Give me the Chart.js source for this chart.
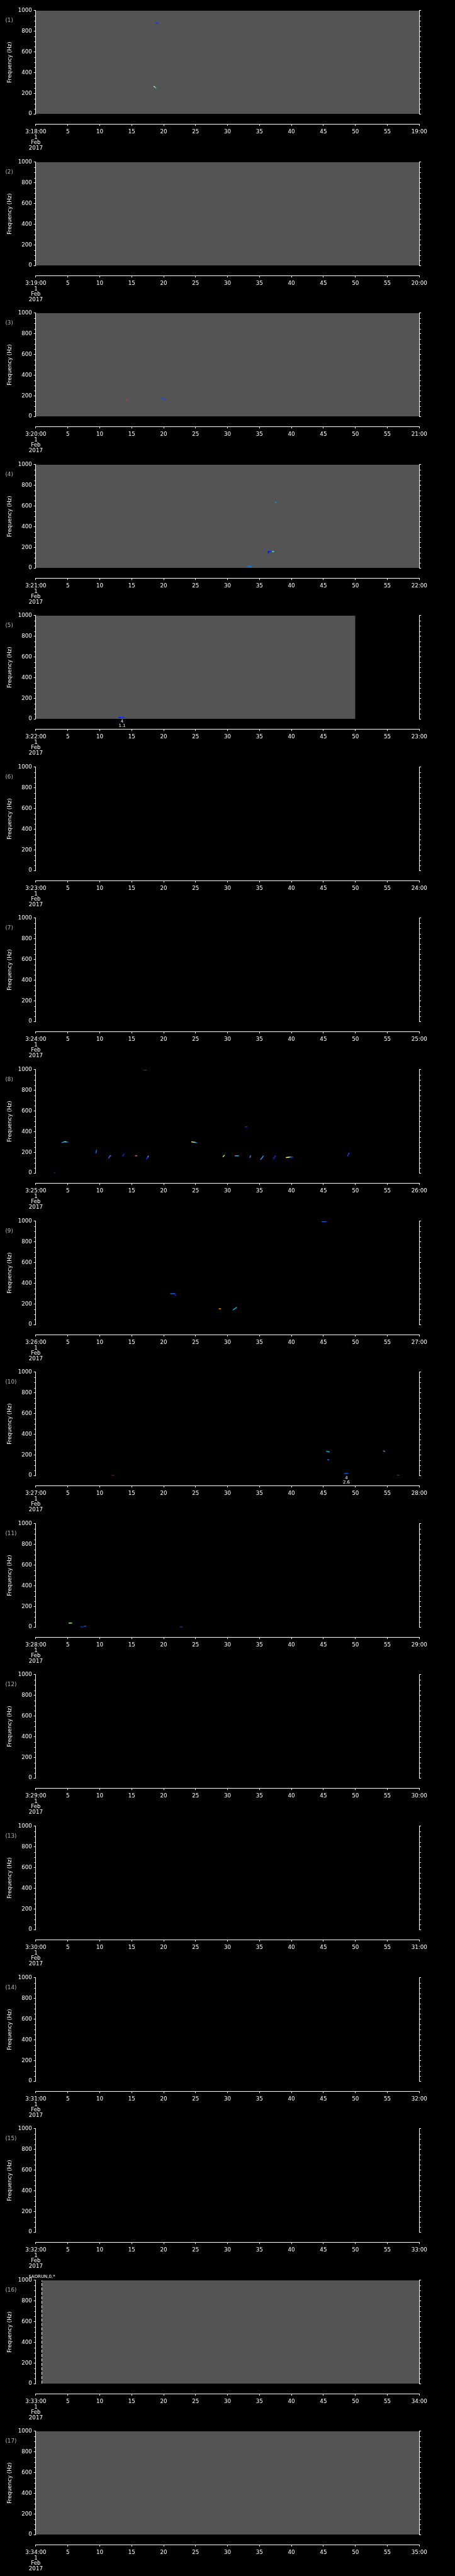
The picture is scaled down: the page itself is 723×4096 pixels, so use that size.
<!DOCTYPE html>
<html>
<head>
<meta charset="utf-8">
<script src="https://cdn.jsdelivr.net/npm/chart.js@4/dist/chart.umd.min.js"></script>
<style>
  html, body { margin: 0; padding: 0; background: #000; }
  #wrap { position: relative; width: 723px; height: 4096px; background: #000; }
</style>
</head>
<body>
<div id="wrap"></div>
<script>
const S = 0.705;
const PANEL_H = 341.25;
const FONT = 'DejaVu Sans';

const panelNames = ['(1)', '(2)', '(3)', '(4)', '(5)', '(6)', '(7)', '(8)', '(9)', '(10)',
  '(11)', '(12)', '(13)', '(14)', '(15)', '(16)', '(17)'];
const startLabels = ['3:18:00', '3:19:00', '3:20:00', '3:21:00', '3:22:00', '3:23:00', '3:24:00',
  '3:25:00', '3:26:00', '3:27:00', '3:28:00', '3:29:00', '3:30:00', '3:31:00', '3:32:00', '3:33:00', '3:34:00'];
const endLabels = ['19:00', '20:00', '21:00', '22:00', '23:00', '24:00', '25:00', '26:00', '27:00',
  '28:00', '29:00', '30:00', '31:00', '32:00', '33:00', '34:00', '35:00'];
const midLabels = ['5', '10', '15', '20', '25', '30', '35', '40', '45', '50', '55'];
const dateLines = ['1', 'Feb', '2017'];
const freqLabels = ['0', '200', '400', '600', '800', '1000'];
const minorFreqs = [50, 100, 150, 250, 300, 350, 450, 500, 550, 650, 700, 750, 850, 900, 950];

// grey = span of minutes with data in each panel (null = none)
const coverStart = [0, 0, 0, 0, 0, null, null, null, null, null, null, null, null, null, null, 1, 0];
const coverEnd = [60, 60, 60, 60, 50, null, null, null, null, null, null, null, null, null, null, 60, 60];

// spectrogram traces: panel, minutes and Hz at both ends, colour
const blobPanel = [1, 1, 1,
  3, 3,
  4, 4, 4, 4, 4,
  5, 5,
  8, 8, 8, 8, 8, 8, 8, 8, 8, 8, 8, 8, 8, 8, 8, 8, 8, 8, 8, 8, 8, 8, 8, 8,
  9, 9, 9, 9, 9,
  10, 10, 10, 10, 10, 10,
  11, 11, 11, 11];
const blobT0 = [18.5, 18.6, 18.8,
  14.1, 19.6,
  37.5, 36.4, 36.4, 36.9, 33.2,
  13.0, 13.4,
  16.9, 2.9, 4.1, 4.4, 4.7, 9.4, 11.4, 13.6, 15.6, 17.3, 17.5, 24.4, 24.8, 32.8, 29.3, 31.2, 33.5, 35.2, 37.2, 39.2, 39.6, 39.9, 48.8, 11.6,
  44.8, 21.1, 21.7, 28.7, 30.9,
  11.9, 45.5, 45.7, 48.3, 54.4, 56.6,
  5.2, 7.0, 7.6, 22.6];
const blobT1 = [18.6, 18.8, 19.05,
  14.3, 20.3,
  37.6, 36.4, 36.9, 37.2, 33.7,
  13.8, 13.6,
  17.3, 3.0, 4.4, 4.7, 5.0, 9.5, 11.6, 13.8, 15.8, 17.5, 17.6, 24.8, 25.1, 33.0, 29.5, 31.7, 33.6, 35.6, 37.5, 39.6, 39.9, 40.2, 49.0, 11.7,
  45.4, 21.7, 21.9, 28.9, 31.4,
  12.2, 45.9, 45.8, 48.8, 54.6, 56.8,
  5.6, 7.4, 7.8, 22.9];
const blobF0 = [266, 262, 878,
  162, 178,
  635, 142, 159, 159, 18,
  15, 15,
  998, 0, 295, 302, 300, 197, 144, 165, 167, 136, 150, 302, 298, 447, 158, 167, 152, 132, 141, 150, 153, 155, 167, 165,
  997, 299, 299, 153, 144,
  0, 235, 153, 20, 237, 3,
  39, 0, 9, 0];
const blobF1 = [262, 249, 878,
  162, 162,
  635, 159, 159, 159, 13,
  15, 15,
  998, 0, 300, 302, 300, 220, 165, 184, 167, 150, 164, 298, 295, 447, 172, 167, 168, 164, 167, 153, 155, 155, 194, 168,
  997, 299, 283, 153, 166,
  0, 230, 153, 20, 233, 3,
  39, 0, 9, 0];
const blobColor = ['#e0ff30', '#00d0ff', '#0030ff',
  '#ff3000', '#0050ff',
  '#00b0ff', '#0010e0', '#0020ff', '#50ff90', '#0080ff',
  '#0020ff', '#40ffc0',
  '#0040ff', '#0050ff', '#2080ff', '#50ffb0', '#0090ff', '#1080ff', '#2060ff', '#2020ff', '#ff6000', '#1030ff', '#00d0ff', '#ffff30', '#00c0ff', '#0030ff', '#c0ff30', '#00c0ff', '#10a0ff', '#20a0ff', '#1030ff', '#ffff40', '#00d0ff', '#0040ff', '#2040ff', '#ff8000',
  '#0070ff', '#0060ff', '#0020ff', '#ff9000', '#00c0ff',
  '#ff1000', '#00b0ff', '#0090ff', '#0070ff', '#00b0ff', '#0050ff',
  '#a0ff50', '#0070ff', '#0060ff', '#0090ff'];

// small value labels under traces
const notePanel = [5, 10];
const noteTime = [13.5, 48.6];
const noteTop = ['4', '4'];
const noteBottom = ['1.1', '2.6'];

// run start marker
const runPanel = [16];
const runTime = [0.95];
const runLabel = ['$ADRUN,0,*'];

const tickFont = { family: FONT, size: 8.7, lineHeight: 0.975 };

const minorTicks = {
  id: 'minorTicks',
  afterDraw(chart) {
    const ctx = chart.ctx;
    ctx.save();
    ctx.strokeStyle = '#fff';
    ctx.lineWidth = 1;
    ['y', 'y2'].forEach(id => {
      const sc = chart.scales[id];
      const x0 = id === 'y' ? chart.chartArea.left : chart.chartArea.right;
      const dir = id === 'y' ? -1 : 1;
      minorFreqs.forEach(v => {
        const py = Math.round(sc.getPixelForValue(v)) + 0.5;
        ctx.beginPath();
        ctx.moveTo(x0, py);
        ctx.lineTo(x0 + dir * 2.4, py);
        ctx.stroke();
      });
    });
    ctx.restore();
  }
};

const panelText = {
  id: 'panelText',
  afterDraw(chart, args, opts) {
    const { ctx, chartArea } = chart;
    const x = chart.scales.x, y = chart.scales.y;
    ctx.save();
    ctx.textBaseline = 'middle';
    ctx.textAlign = 'left';
    ctx.fillStyle = '#b4b4b4';
    ctx.font = '8.7px "' + FONT + '"';
    ctx.fillText(opts.name, 12 * S, chartArea.top + 23 * S);
    ctx.fillStyle = '#fff';
    ctx.textAlign = 'center';
    ctx.font = '7px "' + FONT + '"';
    opts.notes.forEach(n => {
      const px = x.getPixelForValue(n.t);
      const py = y.getPixelForValue(0);
      ctx.fillText(n.top, px, py + 6 * S);
      ctx.fillText(n.bottom, px, py + 15 * S);
    });
    opts.runs.forEach(r => {
      ctx.fillText(r.label, x.getPixelForValue(r.t), y.getPixelForValue(1000) - 8 * S);
    });
    ctx.restore();
  }
};

const wrap = document.getElementById('wrap');

for (let p = 0; p < panelNames.length; p++) {
  const top = Math.round(p * PANEL_H * S);
  const h = Math.round((p + 1) * PANEL_H * S) - top;
  const cv = document.createElement('canvas');
  cv.width = 723;
  cv.height = h;
  cv.style.cssText = 'position:absolute;left:0;top:' + top + 'px;width:723px;height:' + h + 'px';
  wrap.appendChild(cv);

  const datasets = [];
  blobPanel.forEach((bp, i) => {
    if (bp !== p + 1) return;
    datasets.push({
      data: [{ x: blobT0[i], y: blobF0[i] }, { x: blobT1[i], y: blobF1[i] }],
      borderColor: blobColor[i],
      borderWidth: 2 * S,
      borderCapStyle: 'square',
      pointRadius: 0,
      fill: false,
      order: 1
    });
  });
  const notes = [];
  notePanel.forEach((np, i) => {
    if (np === p + 1) notes.push({ t: noteTime[i], top: noteTop[i], bottom: noteBottom[i] });
  });
  const runs = [];
  runPanel.forEach((rp, i) => {
    if (rp !== p + 1) return;
    runs.push({ t: runTime[i], label: runLabel[i] });
    datasets.push({
      data: [{ x: runTime[i], y: 0 }, { x: runTime[i], y: 1000 }],
      borderColor: '#fff',
      borderWidth: 1,
      borderDash: [7 * S, 3 * S],
      pointRadius: 0,
      fill: false,
      order: 0
    });
  });
  if (coverStart[p] !== null) {
    datasets.push({
      data: [{ x: coverStart[p], y: 1000 }, { x: coverEnd[p], y: 1000 }],
      borderWidth: 0,
      borderColor: 'rgba(0,0,0,0)',
      backgroundColor: '#545454',
      pointRadius: 0,
      fill: 'start',
      order: 10
    });
  }

  const bottomH = h - (24 + 233 + 23) * S;

  new Chart(cv, {
    type: 'line',
    data: { datasets },
    options: {
      responsive: false,
      animation: false,
      devicePixelRatio: 1,
      layout: { padding: { top: 24 * S, left: 0, right: 0, bottom: 0 } },
      plugins: {
        legend: { display: false },
        tooltip: { enabled: false },
        panelText: { name: panelNames[p], notes, runs }
      },
      scales: {
        x: {
          type: 'linear', min: 0, max: 60, position: 'bottom', weight: 0,
          border: { display: false },
          grid: { display: false },
          ticks: { display: false },
          afterFit: s => { s.height = 23 * S; }
        },
        xt: {
          type: 'linear', min: 0, max: 60, position: 'bottom', weight: 1,
          border: { color: '#fff', width: 1 },
          grid: { drawOnChartArea: false, color: '#fff', tickColor: '#fff', tickLength: 4 * S },
          ticks: {
            stepSize: 5, autoSkip: false, maxRotation: 0, color: '#fff', font: tickFont, padding: 8 * S,
            callback: (v, i) => {
              if (v === 0) return [startLabels[p]].concat(dateLines);
              if (v === 60) return endLabels[p];
              return midLabels[i - 1];
            }
          },
          afterFit: s => { s.height = bottomH; }
        },
        y: {
          type: 'linear', min: 0, max: 1000, position: 'left',
          border: { color: '#fff', width: 1 },
          grid: { drawOnChartArea: false, color: '#fff', tickColor: '#fff', tickLength: 4.7 * S },
          ticks: {
            stepSize: 200, color: '#fff', font: tickFont, padding: 4 * S,
            callback: (v, i) => freqLabels[i]
          },
          title: {
            display: true, text: 'Frequency (Hz)', color: '#fff',
            font: { family: FONT, size: 8.7, lineHeight: 1.2 },
            padding: { top: 23 * S - 5.2, bottom: 0 }
          },
          afterFit: s => { s.width = 80.7 * S; }
        },
        y2: {
          type: 'linear', min: 0, max: 1000, position: 'right',
          border: { color: '#fff', width: 1 },
          grid: { drawOnChartArea: false, color: '#fff', tickColor: '#fff', tickLength: 4 * S },
          ticks: { stepSize: 200, display: false },
          afterFit: s => { s.width = 723 - 945 * S; }
        }
      }
    },
    plugins: [minorTicks, panelText]
  });
}
</script>
</body>
</html>
